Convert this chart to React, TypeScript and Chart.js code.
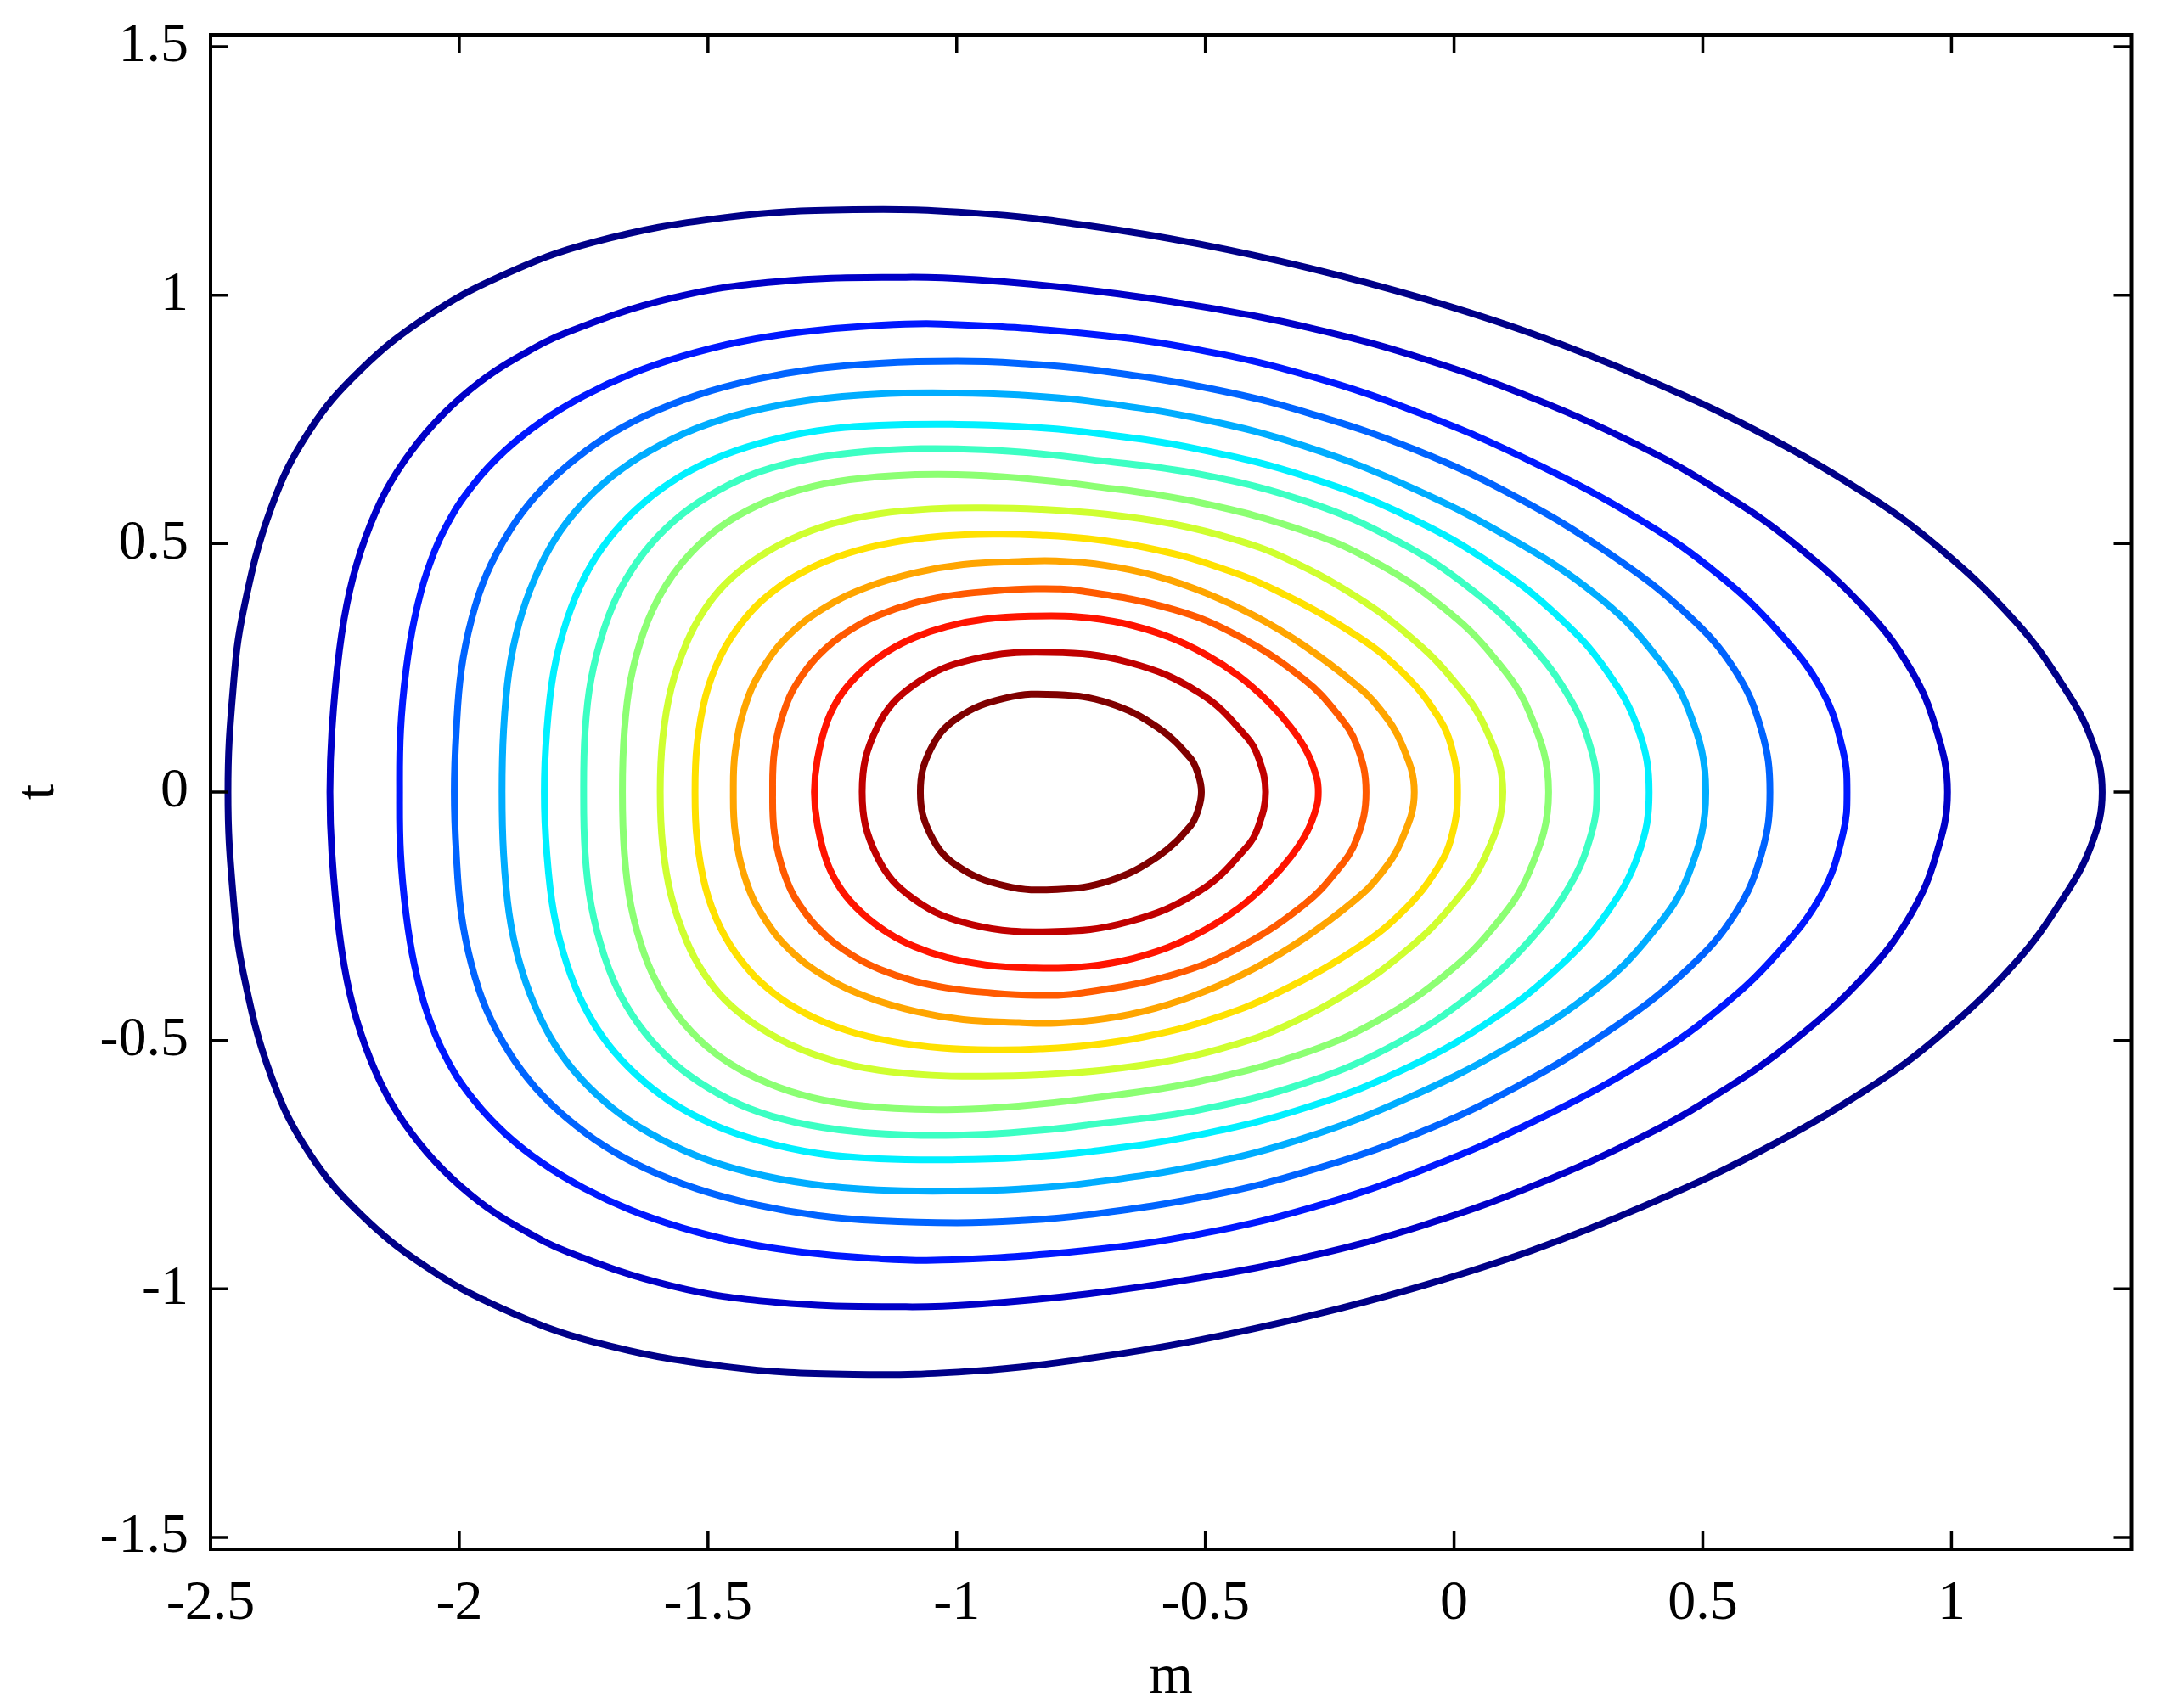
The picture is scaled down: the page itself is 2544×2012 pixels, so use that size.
import React, { useEffect, useRef } from 'react';
import { Chart, registerables } from 'chart.js';

Chart.register(...registerables);

const X_TICKS = [-2.5, -2, -1.5, -1, -0.5, 0, 0.5, 1];
const Y_TICKS = [-1.5, -1, -0.5, 0, 0.5, 1, 1.5];
const X_MIN = -2.5;
const X_MAX = 1.362;
const Y_MIN = -1.524;
const Y_MAX = 1.524;
const X_LABEL = 'm';
const Y_LABEL = 't';

const LEVEL_COLORS = [
  '#000088', '#0000C8', '#0018FF', '#0064FF', '#00ADFF',
  '#00F0FF', '#3CFFC3', '#8CFF73', '#CFFF30', '#FFE100',
  '#FFA500', '#FF5A00', '#FF1400', '#C00000', '#800000',
];

// Upper halves (t >= 0) of each contour, [m, t]; the plot is symmetric in t.
const C1 = [[-2.465,0],[-2.455,0.204],[-2.434,0.365],[-2.377,0.575],[-2.302,0.726],[-2.199,0.849],[-2.066,0.956],[-1.915,1.039],[-1.729,1.107],[-1.468,1.156],[-1.207,1.172],[-0.960,1.165],[-0.736,1.140],[-0.513,1.103],[-0.289,1.054],[-0.065,0.994],[0.158,0.922],[0.382,0.833],[0.606,0.728],[0.829,0.599],[0.979,0.488],[1.128,0.344],[1.221,0.219],[1.281,0.107],[1.303,0]];
const C2 = [[-2.260,0],[-2.256,0.124],[-2.241,0.285],[-2.220,0.406],[-2.189,0.511],[-2.147,0.607],[-2.095,0.688],[-2.032,0.761],[-1.959,0.825],[-1.886,0.873],[-1.781,0.926],[-1.573,0.994],[-1.364,1.027],[-1.102,1.036],[-0.960,1.031],[-0.736,1.010],[-0.513,0.978],[-0.289,0.934],[-0.065,0.873],[0.158,0.793],[0.382,0.692],[0.531,0.607],[0.680,0.503],[0.829,0.366],[0.919,0.245],[0.970,0.124],[0.992,0]];
const C3 = [[-2.120,0],[-2.118,0.124],[-2.107,0.245],[-2.090,0.349],[-2.064,0.446],[-2.022,0.543],[-1.969,0.622],[-1.907,0.688],[-1.834,0.746],[-1.750,0.797],[-1.656,0.841],[-1.552,0.877],[-1.437,0.906],[-1.311,0.926],[-1.176,0.938],[-1.030,0.942],[-0.736,0.922],[-0.513,0.890],[-0.289,0.837],[-0.065,0.761],[0.158,0.664],[0.382,0.543],[0.531,0.438],[0.650,0.325],[0.740,0.204],[0.782,0.083],[0.790,0]];
const C4 = [[-2.010,0],[-2.006,0.124],[-1.996,0.245],[-1.975,0.349],[-1.945,0.439],[-1.898,0.527],[-1.846,0.596],[-1.783,0.657],[-1.709,0.712],[-1.625,0.758],[-1.521,0.799],[-1.406,0.830],[-1.281,0.852],[-1.156,0.863],[-0.999,0.867],[-0.876,0.863],[-0.737,0.851],[-0.490,0.812],[-0.287,0.761],[-0.076,0.688],[0.124,0.594],[0.315,0.478],[0.469,0.357],[0.565,0.245],[0.618,0.124],[0.635,0]];
const C5 = [[-1.914,0],[-1.911,0.123],[-1.900,0.243],[-1.880,0.339],[-1.849,0.428],[-1.808,0.508],[-1.758,0.574],[-1.692,0.636],[-1.618,0.686],[-1.523,0.732],[-1.419,0.765],[-1.294,0.789],[-1.159,0.801],[-1.002,0.803],[-0.875,0.799],[-0.736,0.787],[-0.505,0.750],[-0.300,0.696],[-0.091,0.615],[0.113,0.511],[0.284,0.398],[0.397,0.285],[0.472,0.164],[0.506,0]];
const C6 = [[-1.829,0],[-1.824,0.123],[-1.810,0.243],[-1.784,0.345],[-1.748,0.433],[-1.702,0.506],[-1.644,0.569],[-1.574,0.624],[-1.490,0.669],[-1.396,0.702],[-1.281,0.727],[-1.156,0.738],[-0.998,0.740],[-0.875,0.736],[-0.736,0.724],[-0.514,0.690],[-0.291,0.633],[-0.090,0.553],[0.078,0.457],[0.212,0.351],[0.306,0.245],[0.371,0.124],[0.392,0]];
const C7 = [[-1.750,0],[-1.747,0.123],[-1.735,0.227],[-1.708,0.331],[-1.674,0.412],[-1.627,0.484],[-1.569,0.545],[-1.500,0.595],[-1.417,0.637],[-1.323,0.665],[-1.208,0.683],[-1.072,0.691],[-0.947,0.689],[-0.833,0.681],[-0.736,0.670],[-0.513,0.640],[-0.289,0.582],[-0.110,0.503],[0.033,0.409],[0.149,0.302],[0.233,0.188],[0.276,0.084],[0.287,0]];
const C8 = [[-1.672,0],[-1.668,0.124],[-1.655,0.228],[-1.628,0.326],[-1.593,0.402],[-1.547,0.467],[-1.489,0.523],[-1.420,0.567],[-1.336,0.602],[-1.241,0.625],[-1.125,0.637],[-1.000,0.639],[-0.876,0.632],[-0.736,0.617],[-0.514,0.583],[-0.291,0.522],[-0.148,0.457],[-0.024,0.373],[0.076,0.276],[0.152,0.159],[0.190,0]];
const C9 = [[-1.596,0],[-1.591,0.108],[-1.574,0.209],[-1.543,0.300],[-1.509,0.364],[-1.466,0.418],[-1.408,0.466],[-1.335,0.508],[-1.250,0.540],[-1.156,0.560],[-1.051,0.570],[-0.946,0.572],[-0.832,0.569],[-0.700,0.559],[-0.563,0.539],[-0.440,0.508],[-0.340,0.471],[-0.209,0.401],[-0.097,0.320],[-0.005,0.229],[0.063,0.129],[0.098,0]];
const C10 = [[-1.526,0],[-1.522,0.095],[-1.505,0.192],[-1.475,0.273],[-1.432,0.341],[-1.375,0.399],[-1.301,0.447],[-1.220,0.480],[-1.130,0.502],[-1.030,0.515],[-0.920,0.519],[-0.832,0.517],[-0.736,0.510],[-0.620,0.492],[-0.490,0.458],[-0.354,0.404],[-0.192,0.312],[-0.100,0.237],[-0.035,0.156],[-0.005,0.090],[0.007,0]];
const C11 = [[-1.449,0],[-1.445,0.083],[-1.423,0.180],[-1.388,0.252],[-1.336,0.317],[-1.262,0.373],[-1.176,0.414],[-1.081,0.442],[-0.987,0.458],[-0.875,0.464],[-0.800,0.465],[-0.700,0.456],[-0.600,0.435],[-0.498,0.400],[-0.400,0.354],[-0.302,0.295],[-0.200,0.218],[-0.150,0.168],[-0.105,0.096],[-0.080,0]];
const C12 = [[-1.370,0],[-1.366,0.085],[-1.346,0.166],[-1.314,0.230],[-1.261,0.291],[-1.204,0.332],[-1.154,0.357],[-1.087,0.380],[-1.021,0.394],[-0.945,0.403],[-0.841,0.409],[-0.746,0.404],[-0.563,0.367],[-0.432,0.313],[-0.302,0.227],[-0.236,0.159],[-0.196,0.095],[-0.177,0]];
const C13 = [[-1.286,0],[-1.280,0.066],[-1.260,0.143],[-1.231,0.198],[-1.190,0.244],[-1.139,0.283],[-1.085,0.311],[-1.020,0.333],[-0.942,0.348],[-0.850,0.354],[-0.759,0.353],[-0.667,0.340],[-0.576,0.313],[-0.498,0.276],[-0.432,0.233],[-0.374,0.182],[-0.328,0.130],[-0.295,0.079],[-0.276,0.028],[-0.273,0]];
const C14 = [[-1.190,0],[-1.160,0.130],[-1.085,0.216],[-0.968,0.267],[-0.811,0.281],[-0.654,0.261],[-0.511,0.199],[-0.419,0.113],[-0.393,0.068],[-0.379,0]];
const C15 = [[-1.073,0],[-1.053,0.085],[-1.000,0.148],[-0.902,0.189],[-0.798,0.196],[-0.694,0.179],[-0.596,0.130],[-0.530,0.068],[-0.514,0.034],[-0.508,0]];

const CONTOURS = [C1, C2, C3, C4, C5, C6, C7, C8, C9, C10, C11, C12, C13, C14, C15];

const FONT = '"Liberation Serif", "Times New Roman", serif';

// Closed ring from the upper half and its mirror, padded with one wrap-around
// point at each end so the spline stays smooth where the loop closes.
function ring(upper: number[][]) {
  const lower = upper.slice(1, -1).reverse().map(([m, t]) => [m, -t]);
  const r = [...upper, ...lower];
  const n = r.length;
  const seq = [r[n - 1], ...r, r[0], r[1]];
  return seq.map(([x, y]) => ({ x, y }));
}

const framePlugin = {
  id: 'frameTicks',
  afterDatasetsDraw(chart: any) {
    const { ctx, chartArea, scales } = chart;
    const { left, right, top, bottom } = chartArea;
    const xs = scales.x;
    const ys = scales.y;
    const TL = 21;
    ctx.save();
    ctx.strokeStyle = '#000';
    ctx.lineWidth = 3.5;
    ctx.beginPath();
    X_TICKS.forEach((v) => {
      const p = xs.getPixelForValue(v);
      ctx.moveTo(p, bottom);
      ctx.lineTo(p, bottom - TL);
      ctx.moveTo(p, top);
      ctx.lineTo(p, top + TL);
    });
    Y_TICKS.forEach((v) => {
      const p = ys.getPixelForValue(v);
      ctx.moveTo(left, p);
      ctx.lineTo(left + TL, p);
      ctx.moveTo(right, p);
      ctx.lineTo(right - TL, p);
    });
    ctx.stroke();
    ctx.lineWidth = 4;
    ctx.strokeRect(left, top, right - left, bottom - top);
    ctx.restore();
  },
};

export default function App() {
  const ref = useRef<HTMLCanvasElement | null>(null);

  useEffect(() => {
    document.body.style.margin = '0';
    const canvas = ref.current;
    if (!canvas) return;
    const datasets = CONTOURS.map((c, i) => {
      const data = ring(c);
      const last = data.length - 1;
      return {
        label: 'level ' + (i + 1),
        data,
        borderColor: LEVEL_COLORS[i],
        backgroundColor: LEVEL_COLORS[i],
        borderWidth: 8,
        pointRadius: 0,
        pointHoverRadius: 0,
        fill: false,
        tension: 0.4,
        borderJoinStyle: 'round',
        segment: {
          borderColor: (ctx: any) =>
            ctx.p0DataIndex === 0 || ctx.p1DataIndex === last ? 'rgba(0,0,0,0)' : undefined,
        },
      };
    });

    const chart = new Chart(canvas, {
      type: 'line',
      data: { datasets } as any,
      options: {
        animation: false,
        responsive: false,
        devicePixelRatio: 1,
        maintainAspectRatio: false,
        layout: { padding: { top: 41, right: 33.5, bottom: 0, left: 0 } },
        plugins: { legend: { display: false }, tooltip: { enabled: false } },
        scales: {
          x: {
            type: 'linear',
            min: X_MIN,
            max: X_MAX,
            afterBuildTicks: (s: any) => { s.ticks = X_TICKS.map((v) => ({ value: v })); },
            afterFit: (s: any) => { s.height = 187; s.paddingLeft = 0; s.paddingRight = 0; },
            grid: { display: false, drawTicks: false },
            border: { display: false },
            ticks: {
              autoSkip: false,
              maxRotation: 0,
              padding: 25,
              color: '#000',
              font: { family: FONT, size: 66 },
              callback: (v: any) => String(v),
            },
            title: {
              display: true,
              text: X_LABEL,
              color: '#000',
              font: { family: FONT, size: 66 },
              padding: { top: 0, bottom: -4 },
            },
          },
          y: {
            type: 'linear',
            min: Y_MIN,
            max: Y_MAX,
            afterBuildTicks: (s: any) => { s.ticks = Y_TICKS.map((v) => ({ value: v })); },
            afterFit: (s: any) => { s.width = 248; s.paddingTop = 0; s.paddingBottom = 0; },
            grid: { display: false, drawTicks: false },
            border: { display: false },
            ticks: {
              autoSkip: false,
              padding: 26,
              color: '#000',
              font: { family: FONT, size: 66 },
              callback: (v: any) => String(v),
            },
            title: {
              display: true,
              text: Y_LABEL,
              color: '#000',
              font: { family: FONT, size: 66 },
              padding: { top: 6, bottom: 0 },
            },
          },
        },
      },
      plugins: [framePlugin],
    } as any);

    return () => chart.destroy();
  }, []);

  return (
    <div style={{ position: 'absolute', left: 0, top: 0, width: 2544, height: 2012, background: '#fff' }}>
      <canvas ref={ref} width={2544} height={2012} style={{ display: 'block', width: 2544, height: 2012 }} />
    </div>
  );
}
